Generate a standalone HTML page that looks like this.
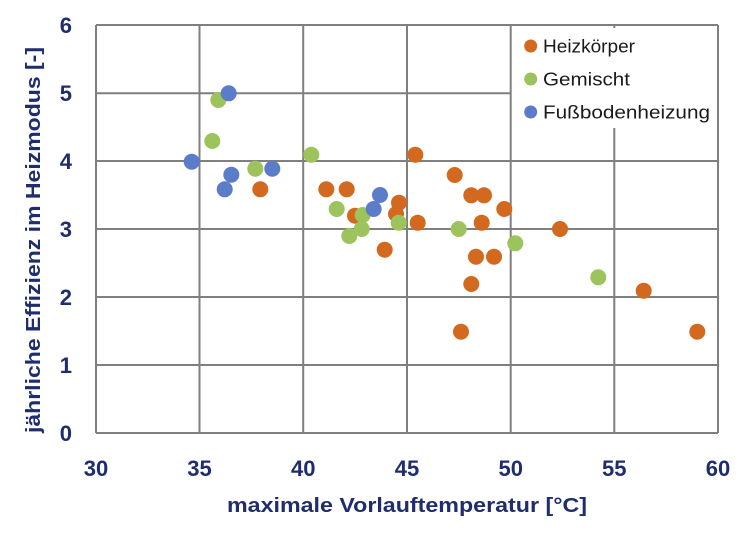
<!DOCTYPE html>
<html><head><meta charset="utf-8"><style>body{margin:0;background:#fff}svg{display:block}</style></head>
<body>
<svg width="750" height="540" xmlns="http://www.w3.org/2000/svg" font-family="Liberation Sans, sans-serif">
<rect width="750" height="540" fill="#fff"/>
<g stroke="#7f7f7f" stroke-width="2" fill="none">
<path d="M96 25V433M199.5 25V433M303.2 25V433M407 25V433M510.7 25V433M614.3 128V433M718 25V433"/>
<path d="M96 25H718M96 93.3H510.7M96 161H718M96 229H718M96 297H718M96 365H718M96 433H718"/>
<path d="M614.3 25V28"/>
</g>
<g fill="#1f2d6e" font-weight="bold" font-size="22">
<g text-anchor="end">
<text x="72" y="33">6</text><text x="72" y="101">5</text><text x="72" y="169">4</text><text x="72" y="237">3</text><text x="72" y="305">2</text><text x="72" y="373">1</text><text x="72" y="441">0</text>
</g>
<g text-anchor="middle">
<text x="96" y="476">30</text><text x="199.5" y="476">35</text><text x="303.2" y="476">40</text><text x="407" y="476">45</text><text x="510.7" y="476">50</text><text x="614.3" y="476">55</text><text x="718" y="476">60</text>
</g>
</g>
<g fill="#1f2d6e" font-weight="bold" font-size="20">
<text x="227" y="512" textLength="360" lengthAdjust="spacingAndGlyphs">maximale Vorlauftemperatur [°C]</text>
<text transform="translate(40,433) rotate(-90)" x="0" y="0" textLength="386" lengthAdjust="spacingAndGlyphs">jährliche Effizienz im Heizmodus [-]</text>
</g>
<g fill="#d2691e">
<circle cx="260.3" cy="189.3" r="8"/><circle cx="415.3" cy="154.7" r="8"/><circle cx="326.3" cy="189.3" r="8"/><circle cx="346.7" cy="189.3" r="8"/><circle cx="399" cy="202.7" r="8"/><circle cx="396" cy="214" r="8"/><circle cx="355" cy="215.7" r="8"/><circle cx="417.7" cy="222.7" r="8"/><circle cx="384.7" cy="249.7" r="8"/><circle cx="454.7" cy="175" r="8"/><circle cx="471.3" cy="195.3" r="8"/><circle cx="484" cy="195.3" r="8"/><circle cx="504.3" cy="209" r="8"/><circle cx="481.7" cy="222.7" r="8"/><circle cx="560" cy="229" r="8"/><circle cx="476" cy="256.7" r="8"/><circle cx="494" cy="256.7" r="8"/><circle cx="471.3" cy="284" r="8"/><circle cx="461" cy="331.7" r="8"/><circle cx="643.7" cy="290.7" r="8"/><circle cx="697.3" cy="331.7" r="8"/>
</g>
<g fill="#9dc45c">
<circle cx="218.3" cy="100" r="8"/><circle cx="212.3" cy="141" r="8"/><circle cx="255.3" cy="168.7" r="8"/><circle cx="311.3" cy="154.7" r="8"/><circle cx="336.7" cy="209" r="8"/><circle cx="362.7" cy="215" r="8"/><circle cx="361.7" cy="229" r="8"/><circle cx="349.3" cy="236" r="8"/><circle cx="398.7" cy="222.7" r="8"/><circle cx="458.7" cy="229" r="8"/><circle cx="515.3" cy="243.3" r="8"/><circle cx="598.3" cy="277.3" r="8"/>
</g>
<g fill="#5b7cc8">
<circle cx="228.7" cy="93.3" r="8"/><circle cx="191.7" cy="161.7" r="8"/><circle cx="272.3" cy="168.7" r="8"/><circle cx="231.3" cy="174.7" r="8"/><circle cx="224.7" cy="189.3" r="8"/><circle cx="380" cy="195" r="8"/><circle cx="373.7" cy="209" r="8"/>
</g>
<rect x="512" y="28" width="204" height="99" fill="#fff"/>
<circle cx="530.7" cy="46" r="6.5" fill="#d2691e"/>
<circle cx="530.7" cy="79" r="6.5" fill="#9dc45c"/>
<circle cx="530.7" cy="112" r="6.5" fill="#5b7cc8"/>
<g fill="#1a1a1a" font-size="18">
<text x="543" y="52.5" textLength="92" lengthAdjust="spacingAndGlyphs">Heizkörper</text>
<text x="543" y="85.5" textLength="87" lengthAdjust="spacingAndGlyphs">Gemischt</text>
<text x="543" y="118.5" textLength="167" lengthAdjust="spacingAndGlyphs">Fußbodenheizung</text>
</g>
</svg>
</body></html>
